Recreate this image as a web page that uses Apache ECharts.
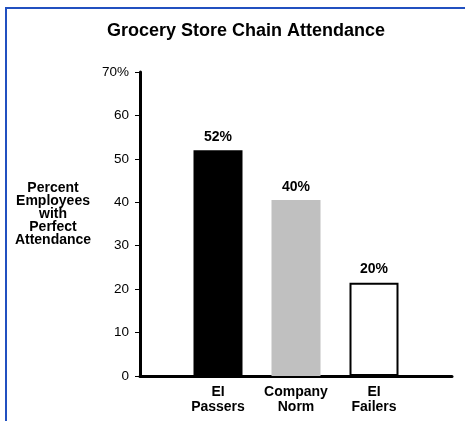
<!DOCTYPE html>
<html>
<head>
<meta charset="utf-8">
<script src="https://cdn.jsdelivr.net/npm/echarts@6/dist/echarts.min.js"></script>
<style>
  html, body { margin: 0; padding: 0; background: #fff; }
  #chart { width: 465px; height: 421px; }
  /* blue frame on top and left only */
  #frame {
    position: absolute; left: 5px; top: 7px; right: 0; bottom: 0;
    border-top: 2px solid #2150c0; border-left: 2px solid #2150c0;
    pointer-events: none;
  }
</style>
</head>
<body>
<div id="chart"></div>
<div id="frame"></div>
<script>
// data
const categories = ["EI\nPassers", "Company\nNorm", "EI\nFailers"];
const values = [52, 40.5, 21.5];
const valueLabels = ["52%", "40%", "20%"];
const barColors = ["#000000", "#c0c0c0", "#ffffff"];
const yMin = 0;
const yMax = 70;
const yStep = 10;

// pad with empty slots so the bars sit inside a longer axis
const xData = [""].concat(categories, [""]);
const seriesData = ["-"].concat(
  values.map(function (v, i) {
    const item = { value: v, itemStyle: { color: barColors[i] } };
    if (barColors[i] === "#ffffff") {
      item.itemStyle.borderColor = "#000";
      item.itemStyle.borderWidth = 2;
    }
    return item;
  }),
  ["-"]
);

const myChart = echarts.init(document.getElementById("chart"));
myChart.setOption({
  animation: false,
  title: {
    text: "Grocery Store Chain Attendance",
    left: 241,
    top: 17,
    textAlign: "center",
    textStyle: {
      fontFamily: "Liberation Sans, Arial",
      fontWeight: "bold",
      fontSize: 18,
      color: "#000",
    },
  },
  graphic: [
    {
      type: "text",
      x: 53,
      y: 214,
      style: {
        text: "Percent\nEmployees\nwith\nPerfect\nAttendance",
        font: "bold 14px 'Liberation Sans', Arial",
        lineHeight: 13,
        textAlign: "center",
        textVerticalAlign: "middle",
        fill: "#000",
      },
    },
  ],
  grid: {
    left: 140,
    right: 13,
    top: 72,
    bottom: 45,
  },
  xAxis: {
    type: "category",
    data: xData,
    boundaryGap: false,
    axisLine: { lineStyle: { color: "#000", width: 3 } },
    axisTick: { show: false },
    axisLabel: {
      interval: 0,
      margin: 9,
      color: "#000",
      fontFamily: "Liberation Sans, Arial",
      fontWeight: "bold",
      fontSize: 14,
      lineHeight: 15,
    },
    splitLine: { show: false },
  },
  yAxis: {
    type: "value",
    min: yMin,
    max: yMax,
    interval: yStep,
    axisLine: { show: true, lineStyle: { color: "#000", width: 3 } },
    axisTick: { show: true, length: 5, lineStyle: { color: "#000", width: 1 } },
    axisLabel: {
      margin: 11,
      color: "#000",
      fontFamily: "Liberation Sans, Arial",
      fontSize: 13.5,
      formatter: function (v) {
        return v === yMax ? v + "%" : v;
      },
    },
    splitLine: { show: false },
  },
  series: [
    {
      type: "bar",
      data: seriesData,
      barWidth: 49,
      label: {
        show: true,
        position: "top",
        distance: 6,
        color: "#000",
        fontFamily: "Liberation Sans, Arial",
        fontWeight: "bold",
        fontSize: 14,
        formatter: function (p) {
          return valueLabels[p.dataIndex - 1];
        },
      },
    },
  ],
});
window.addEventListener("resize", function () {
  myChart.resize();
});
</script>
</body>
</html>
